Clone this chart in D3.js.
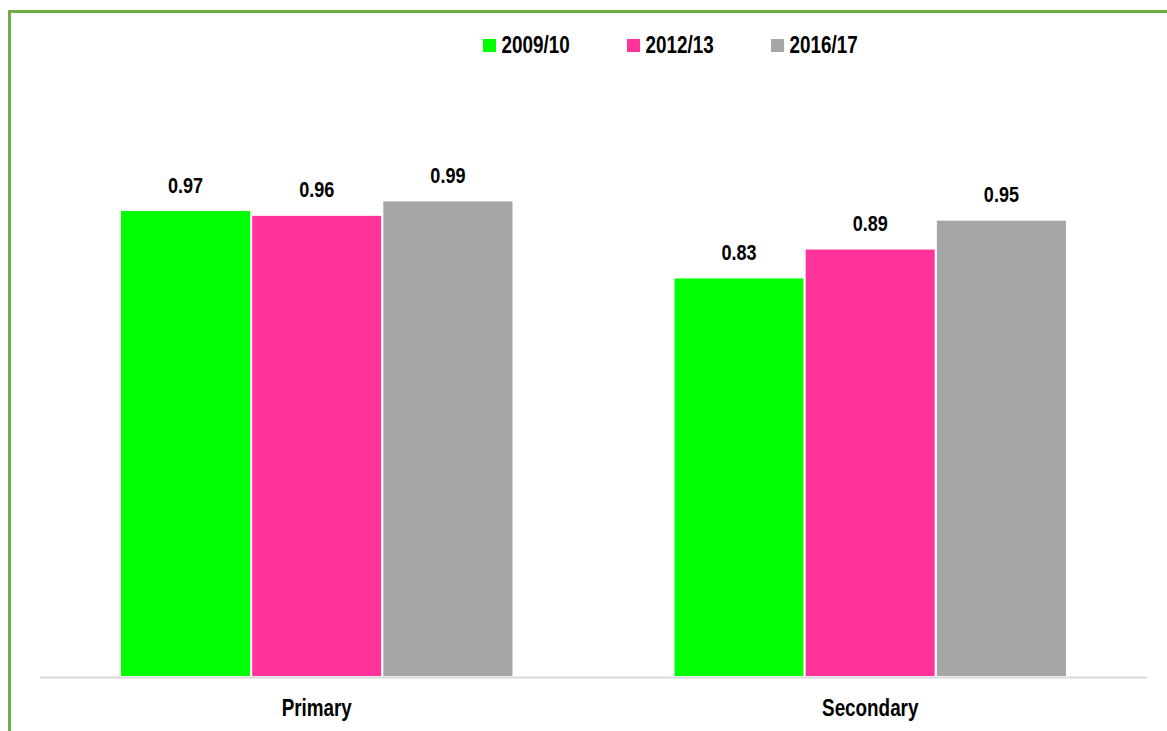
<!DOCTYPE html>
<html><head><meta charset="utf-8">
<script src="https://cdn.jsdelivr.net/npm/d3@7"></script>
<style>body{margin:0;background:#fff;}svg{display:block;}</style>
</head><body>
<svg id="c" width="1167" height="731"></svg>
<script>
const categories = ["Primary", "Secondary"];
const seriesNames = ["2009/10", "2012/13", "2016/17"];
const values2009 = [0.97, 0.83];
const values2012 = [0.96, 0.89];
const values2016 = [0.99, 0.95];
const seriesColors = ["#00FF00", "#FF3399", "#A6A6A6"];

const seriesValues = [values2009, values2012, values2016];
const svg = d3.select("#c");
const font = "'Liberation Sans Narrow','Arial Narrow','Liberation Sans',Arial,sans-serif";
const narrow = 0.82;

function label(parent, x, yy, txt, size, anchor) {
  return parent.append("text")
    .attr("transform", `translate(${x},${yy}) scale(${narrow},1)`)
    .attr("text-anchor", anchor).attr("font-family", font).attr("font-weight", "bold")
    .attr("font-size", size).attr("fill", "#000").text(txt);
}

// border
svg.append("rect").attr("x", 9.5).attr("y", 11.5).attr("width", 1200).attr("height", 800)
  .attr("fill", "none").attr("stroke", "#70AD47").attr("stroke-width", 3);

const x0 = d3.scaleBand().domain(categories).range([40, 1147]).paddingInner(0).paddingOuter(0);
const x1 = d3.scaleBand().domain(seriesNames).range([0, x0.bandwidth()]).paddingOuter(0.61).paddingInner(0.0);
const y = d3.scaleLinear().domain([0, 1]).range([677, 195.6]);

const groups = svg.append("g").selectAll("g").data(categories).join("g")
  .attr("transform", d => `translate(${x0(d)},0)`);

groups.each(function(cat, ci) {
  const g = d3.select(this);
  seriesNames.forEach((s, si) => {
    const v = seriesValues[si][ci];
    g.append("rect").attr("x", x1(s)).attr("y", y(v)).attr("width", x1.bandwidth())
      .attr("height", y(0) - y(v)).attr("fill", seriesColors[si])
      .attr("stroke", "#fff").attr("stroke-width", 2);
    label(g, x1(s) + x1.bandwidth() / 2, y(v) - 17.5, v.toFixed(2), 22, "middle");
  });
});

// baseline
svg.append("line").attr("x1", 40).attr("x2", 1147).attr("y1", y(0) + 0.5).attr("y2", y(0) + 0.5)
  .attr("stroke", "#D9D9D9").attr("stroke-width", 2);

// category axis labels
const xAxis = d3.axisBottom(x0).tickSize(0).tickPadding(0);
const ax = svg.append("g").attr("transform", `translate(0,${y(0)})`).call(xAxis);
ax.select(".domain").remove();
ax.selectAll("text").attr("font-family", font).attr("font-weight", "bold")
  .attr("font-size", 23).attr("fill", "#000").attr("dy", null).attr("y", 39)
  .attr("transform", `scale(${narrow},1)`).attr("x", 0);

// legend
const legendX = [483, 627, 771];
seriesNames.forEach((s, i) => {
  svg.append("rect").attr("x", legendX[i]).attr("y", 39).attr("width", 13).attr("height", 13)
    .attr("fill", seriesColors[i]);
  label(svg, legendX[i] + 18.5, 53, s, 23, "start");
});
</script>
</body></html>
